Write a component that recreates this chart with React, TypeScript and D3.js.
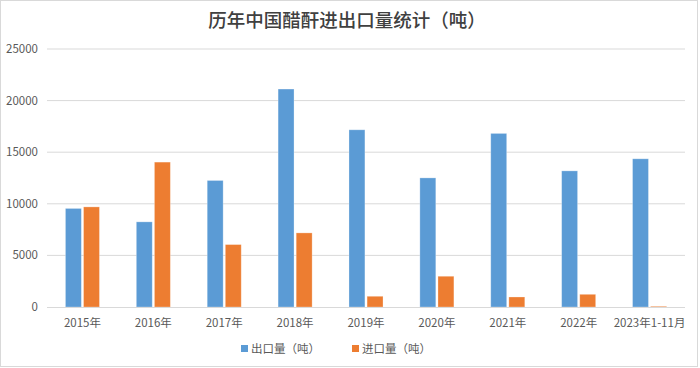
import { useEffect, useRef } from 'react'
import * as d3 from 'd3'

const categories = ['2015年', '2016年', '2017年', '2018年', '2019年', '2020年', '2021年', '2022年', '2023年1-11月']
const exportValues = [9550, 8250, 12260, 21120, 17170, 12510, 16820, 13190, 14360]
const importValues = [9700, 14040, 6050, 7180, 1040, 2980, 970, 1230, 70]
const seriesNames = ['出口量（吨）', '进口量（吨）']
const yTicks = [0, 5000, 10000, 15000, 20000, 25000]

const W = 700
const H = 368
const FONT = '"Noto Sans CJK SC", "DejaVu Sans", sans-serif'

export default function App() {
  const svgRef = useRef<SVGSVGElement>(null)

  useEffect(() => {
    if (!svgRef.current) return
    const svg = d3.select(svgRef.current)
    svg.selectAll('*').remove()

    const margin = { top: 49, right: 15, bottom: 61, left: 47 }
    const plotW = W - margin.left - margin.right
    const plotH = H - margin.top - margin.bottom

    // outer frame
    svg.append('rect')
      .attr('x', 0.5).attr('y', 0.5)
      .attr('width', W - 3).attr('height', H - 2)
      .attr('fill', '#fff')
      .attr('stroke', '#d9d9d9')

    svg.append('text')
      .attr('x', W / 2 - 3)
      .attr('y', 27)
      .attr('text-anchor', 'middle')
      .style('font-family', FONT)
      .style('font-size', '18.5px')
      .style('font-weight', 500)
      .style('fill', '#404040')
      .text('历年中国醋酐进出口量统计（吨）')

    const g = svg.append('g').attr('transform', `translate(${margin.left},${margin.top})`)

    const x0 = d3.scaleBand<string>().domain(categories).range([0, plotW]).paddingInner(0.52).paddingOuter(0.26)
    const x1 = d3.scaleBand<string>().domain(seriesNames).range([0, x0.bandwidth()]).paddingInner(0.12)
    const y = d3.scaleLinear().domain([0, 25000]).range([plotH, 0])

    // gridlines
    g.selectAll('.grid')
      .data(yTicks.slice(1))
      .join('line')
      .attr('x1', 0).attr('x2', plotW)
      .attr('y1', d => y(d)).attr('y2', d => y(d))
      .attr('stroke', '#d9d9d9')
      .attr('stroke-width', 1)

    // y labels
    g.selectAll('.ylab')
      .data(yTicks)
      .join('text')
      .attr('x', -9)
      .attr('y', d => y(d))
      .attr('dy', '0.35em')
      .attr('text-anchor', 'end')
      .style('font-family', FONT)
      .style('font-size', '11.5px')
      .style('fill', '#595959')
      .text(d => d)

    const colors = ['#5b9bd5', '#ed7d31']
    const rows = categories.map((c, i) => ({ c, vals: [exportValues[i], importValues[i]] }))

    const groups = g.selectAll('.grp')
      .data(rows)
      .join('g')
      .attr('transform', d => `translate(${x0(d.c)},0)`)

    groups.selectAll('rect')
      .data(d => d.vals.map((v, k) => ({ v, k })))
      .join('rect')
      .attr('x', d => x1(seriesNames[d.k]) || 0)
      .attr('y', d => y(d.v))
      .attr('width', x1.bandwidth())
      .attr('height', d => plotH - y(d.v))
      .attr('fill', d => colors[d.k])
      .attr('stroke', '#fff')
      .attr('stroke-opacity', 0.35)
      .attr('stroke-width', 0.8)

    // baseline
    g.append('line')
      .attr('x1', 0).attr('x2', plotW)
      .attr('y1', plotH + 0.5).attr('y2', plotH + 0.5)
      .attr('stroke', '#d9d9d9')

    // x labels
    g.selectAll('.xlab')
      .data(categories)
      .join('text')
      .attr('x', d => (x0(d) || 0) + x0.bandwidth() / 2)
      .attr('y', plotH + 20)
      .attr('text-anchor', 'middle')
      .style('font-family', FONT)
      .style('font-size', '11.5px')
      .style('fill', '#595959')
      .text(d => d)

    // legend
    const legendX = [241, 352]
    const legend = svg.append('g')
    seriesNames.forEach((name, k) => {
      legend.append('rect')
        .attr('x', legendX[k]).attr('y', 345)
        .attr('width', 7).attr('height', 7)
        .attr('fill', colors[k])
      legend.append('text')
        .attr('x', legendX[k] + 10)
        .attr('y', 352.5)
        .style('font-family', FONT)
        .style('font-size', '11.5px')
        .style('fill', '#595959')
        .text(name)
    })
  }, [])

  return (
    <div style={{ position: 'fixed', left: 0, top: 0, width: W, height: H, background: '#fff' }}>
      <svg ref={svgRef} width={W} height={H} />
    </div>
  )
}
